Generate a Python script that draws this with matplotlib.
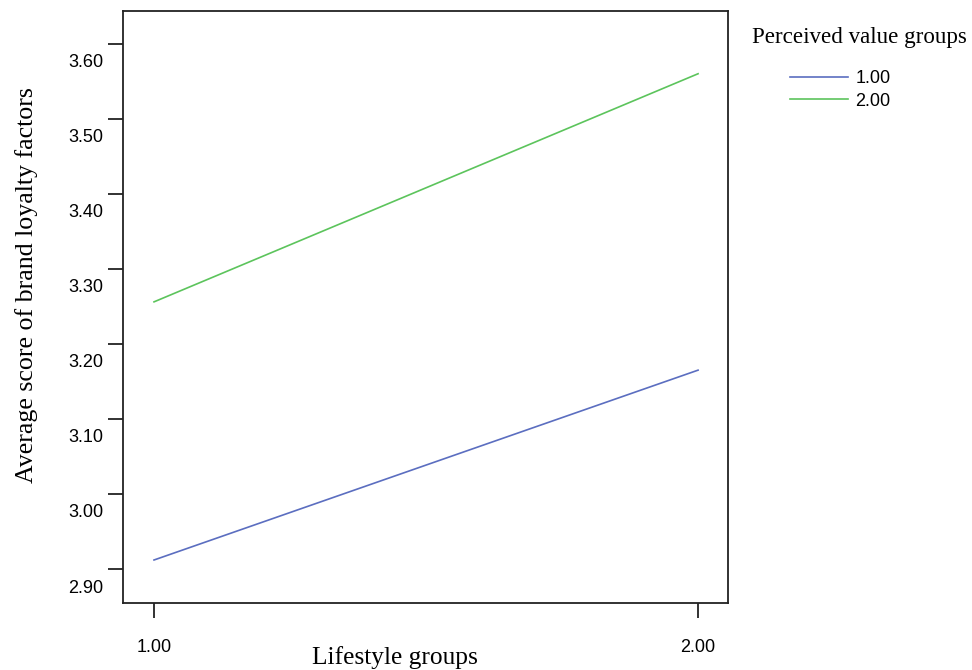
import matplotlib
matplotlib.use("Agg")
import matplotlib.pyplot as plt
from matplotlib.transforms import ScaledTranslation

# Estimated marginal means of brand loyalty by lifestyle and perceived value group
lifestyle_groups = [1.0, 2.0]
lifestyle_labels = ["1.00", "2.00"]
value_group_names = ["1.00", "2.00"]
means_value_1 = [2.912, 3.165]
means_value_2 = [3.256, 3.560]
y_ticks = [2.90, 3.00, 3.10, 3.20, 3.30, 3.40, 3.50, 3.60]

colors = ["#5b6ec0", "#5cc45c"]

fig = plt.figure(figsize=(9.72, 6.70), dpi=100)
ax = fig.add_axes([123 / 972, 67 / 670, (728 - 123) / 972, (603 - 11) / 670])

for vals, name, c in zip([means_value_1, means_value_2], value_group_names, colors):
    ax.plot(lifestyle_groups, vals, color=c, lw=1.2, label=name)

ax.set_xlim(0.943, 2.055)
ax.set_ylim(2.8547, 3.6436)
ax.set_xticks(lifestyle_groups)
ax.set_xticklabels(lifestyle_labels)
ax.set_yticks(y_ticks)
ax.set_yticklabels([f"{v:.2f}" for v in y_ticks])

for s in ax.spines.values():
    s.set_linewidth(1.3)
    s.set_color("#222222")

ax.tick_params(axis="both", direction="out", length=11, width=1.3, color="#222222")
ax.tick_params(axis="y", pad=3)
ax.tick_params(axis="x", pad=15)
for lab in ax.get_yticklabels() + ax.get_xticklabels():
    lab.set_fontfamily("Liberation Sans")
    lab.set_fontsize(13)

# y tick labels sit just below their tick marks
shift = ScaledTranslation(0, -0.17, fig.dpi_scale_trans)
for lab in ax.get_yticklabels():
    lab.set_transform(lab.get_transform() + shift)

serif = "Liberation Serif"
ax.set_xlabel("Lifestyle groups", family=serif, fontsize=18.3, va="center")
ax.xaxis.set_label_coords(0.4496, -0.0929)
ax.set_ylabel("Average score of brand loyalty factors", family=serif, fontsize=18.6,
              va="center")
ax.yaxis.set_label_coords(-0.159, 0.537)

fig.text(752 / 972, 1 - 38 / 670, "Perceived value groups", family=serif, fontsize=16.6,
         ha="left", va="center")
leg = ax.legend(loc="upper left", bbox_to_anchor=(783 / 972, 1 - 63 / 670),
                bbox_transform=fig.transFigure, frameon=False, handlelength=3.2,
                handletextpad=0.4, labelspacing=0.3, borderaxespad=0,
                prop=dict(family="Liberation Sans", size=13))

fig.savefig("out.png", dpi=100)
